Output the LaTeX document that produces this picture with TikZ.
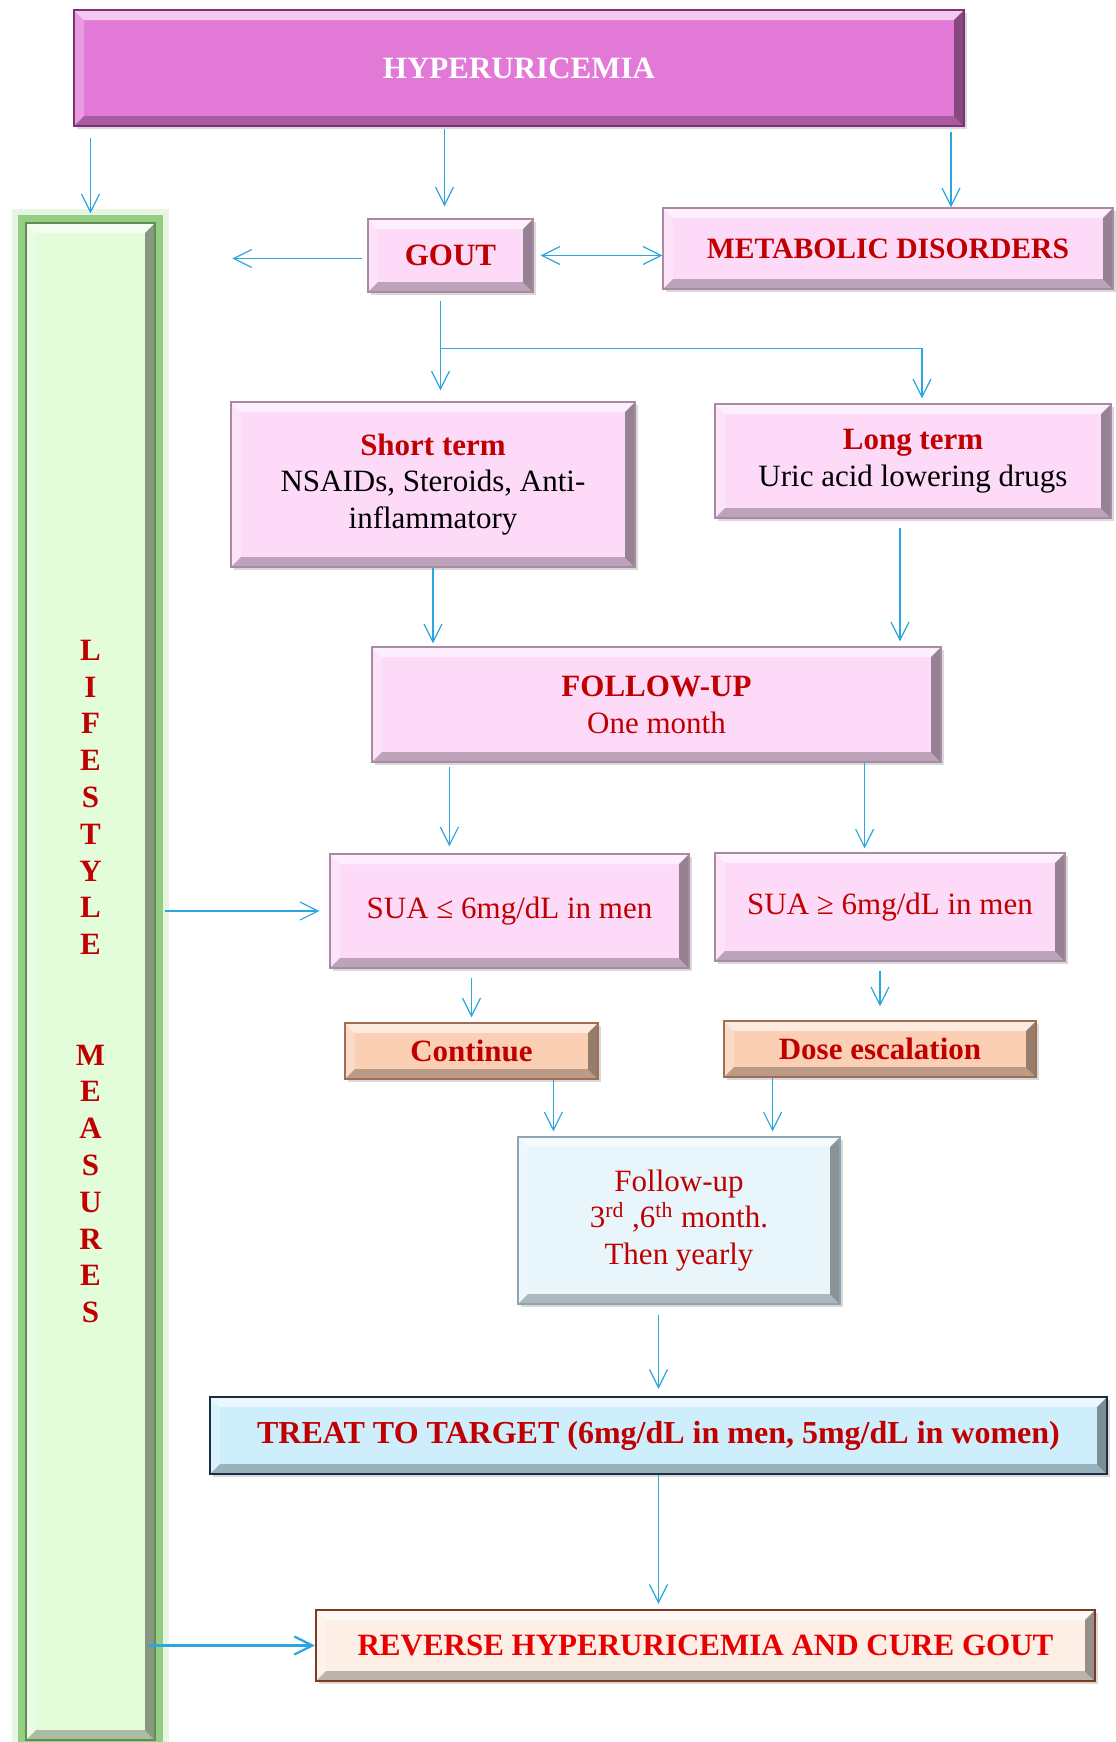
\documentclass[tikz,border=0pt]{standalone}
\usepackage{fontspec}
\setmainfont{Liberation Serif}
\usetikzlibrary{positioning,calc,arrows.meta,shadows}

\definecolor{magfill}{HTML}{E279D6}
\definecolor{magedge}{HTML}{7B3372}
\definecolor{pinkfill}{HTML}{FCDAF8}
\definecolor{pinkedge}{HTML}{A98AA5}
\definecolor{lifefill}{HTML}{E3FCDA}
\definecolor{lifeglow}{HTML}{8CCB79}
\definecolor{peachfill}{HTML}{FBCFB3}
\definecolor{peachedge}{HTML}{A06D55}
\definecolor{skyfill}{HTML}{E8F6FC}
\definecolor{skyedge}{HTML}{8FA3B0}
\definecolor{cyanfill}{HTML}{CDEEFA}
\definecolor{navyedge}{HTML}{1C2E46}
\definecolor{creamfill}{HTML}{FDEFE5}
\definecolor{brownedge}{HTML}{7A3B1E}
\definecolor{darkred}{HTML}{C00000}
\definecolor{brightred}{HTML}{E80000}
\definecolor{arrowblue}{HTML}{2BA6DE}

\newcommand{\bvl}{5pt}

\tikzset{
  bevel/.style={path picture={
    \coordinate (bnw) at (path picture bounding box.north west);
    \coordinate (bne) at (path picture bounding box.north east);
    \coordinate (bsw) at (path picture bounding box.south west);
    \coordinate (bse) at (path picture bounding box.south east);
    \fill[white,opacity=.6] (bnw) -- (bne) -- ([xshift=-\bvl,yshift=-\bvl]bne) -- ([xshift=\bvl,yshift=-\bvl]bnw) -- cycle;
    \fill[white,opacity=.25] (bnw) -- ([xshift=\bvl,yshift=-\bvl]bnw) -- ([xshift=\bvl,yshift=\bvl]bsw) -- (bsw) -- cycle;
    \fill[black,opacity=.25] (bsw) -- (bse) -- ([xshift=-\bvl,yshift=\bvl]bse) -- ([xshift=\bvl,yshift=\bvl]bsw) -- cycle;
    \fill[black,opacity=.4] (bne) -- (bse) -- ([xshift=-\bvl,yshift=\bvl]bse) -- ([xshift=-\bvl,yshift=-\bvl]bne) -- cycle;
  }},
  box/.style={rectangle, align=center, inner sep=2pt, bevel,
    font=\fontsize{15.5}{18.4}\selectfont,
    drop shadow={shadow xshift=1.5pt,shadow yshift=-1.5pt,opacity=.3}},
  magbox/.style={box, fill=magfill, draw=magedge, line width=1pt, text=white, font=\fontsize{15.5}{18.4}\selectfont\bfseries},
  pinkbox/.style={box, fill=pinkfill, draw=pinkedge, line width=.6pt},
  peachbox/.style={box, fill=peachfill, draw=peachedge, line width=.6pt, text=darkred, font=\fontsize{15.5}{18.4}\selectfont\bfseries},
  skybox/.style={box, fill=skyfill, draw=skyedge, line width=.6pt, text=darkred},
  lifebox/.style={rectangle, align=center, bevel, fill=lifefill, draw=lifeglow!70!black, line width=.6pt,
    preaction={draw=lifeglow!40, line width=14pt, opacity=.5},
    preaction={draw=lifeglow, line width=8pt, opacity=.9},
    text=darkred, font=\fontsize{15.5}{18.4}\selectfont\bfseries},
  flow/.style={draw=arrowblue, line width=.6pt, ->},
}

\begin{document}
\begin{tikzpicture}[x=0.5pt, y=-0.5pt, >={Straight Barb[length=9pt,width=9pt]}]
  \useasboundingbox (0,0) rectangle (1115,1742);

  % boxes
  \node[magbox, minimum width=445pt, minimum height=58pt] (hyper) at (519,68) {HYPERURICEMIA};
  \node[lifebox, minimum width=64.5pt, minimum height=758.5pt] (life) at (90.5,981.5)
    {L\\I\\F\\E\\S\\T\\Y\\L\\E\\[36.8pt]M\\E\\A\\S\\U\\R\\E\\S};
  \node[pinkbox, minimum width=82.5pt, minimum height=36.5pt] (gout) at (450.5,255.5) {\textbf{\color{darkred}GOUT}};
  \node[pinkbox, minimum width=225pt, minimum height=40.5pt, font=\fontsize{14.8}{18.4}\selectfont] (metab) at (888,248.5) {\textbf{\color{darkred}METABOLIC DISORDERS}};
  \node[pinkbox, minimum width=202pt, minimum height=82.5pt] (short) at (433,484.5)
    {\textbf{\color{darkred}Short term}\\NSAIDs, Steroids, Anti-\\inflammatory};
  \node[pinkbox, minimum width=198pt, minimum height=57pt] (long) at (913,461)
    {\textbf{\color{darkred}Long term}\\Uric acid lowering drugs};
  \node[pinkbox, minimum width=284.5pt, minimum height=57.5pt, text=darkred] (follow) at (656.5,704.5)
    {\textbf{FOLLOW-UP}\\One month};
  \node[pinkbox, minimum width=179.5pt, minimum height=57pt, text=darkred] (suale) at (509.5,911) {SUA ≤ 6mg/dL in men};
  \node[pinkbox, minimum width=175pt, minimum height=54pt, text=darkred] (suage) at (890,907) {SUA ≥ 6mg/dL in men};
  \node[peachbox, minimum width=126.5pt, minimum height=28pt] (cont) at (471.5,1051) {Continue};
  \node[peachbox, minimum width=156pt, minimum height=28pt] (dose) at (880,1049) {Dose escalation};
  \node[skybox, minimum width=161pt, minimum height=83.5pt] (fup) at (679,1220.5)
    {Follow-up\\3\textsuperscript{rd} ,6\textsuperscript{th} month.\\Then yearly};
  \node[box, fill=cyanfill, draw=navyedge, line width=1.2pt, minimum width=448.5pt, minimum height=38.5pt, font=\fontsize{16}{18.4}\selectfont] (treat) at (658.5,1435.5)
    {\textbf{\color{darkred}TREAT TO TARGET (6mg/dL in men, 5mg/dL in women)}};
  \node[box, fill=creamfill, draw=brownedge, line width=1.2pt, minimum width=389.5pt, minimum height=35.5pt] (rev) at (705.5,1645.5)
    {\textbf{\color{brightred}REVERSE HYPERURICEMIA AND CURE GOUT}};

  % helper points
  \coordinate (hg) at ([xshift=-3pt,yshift=6pt]gout.north);
  \coordinate (hm) at ([xshift=-7pt,yshift=-2.5pt]hyper.south east);
  \coordinate (goutleft) at ([xshift=-67.5pt,yshift=-1.5pt]gout.west);
  \coordinate (gs) at ([xshift=-5pt,yshift=-4pt]gout.south);
  \coordinate (branch) at ([xshift=-5pt,yshift=-28pt]gout.south);
  \coordinate (lf) at ([xshift=-6.5pt,yshift=-4.5pt]long.south);
  \coordinate (fs1) at ([xshift=39pt,yshift=-2pt]follow.south west);
  \coordinate (fs2) at ([xshift=-38.5pt]follow.south east);
  \coordinate (ls) at ([xshift=4.5pt]life.east);
  \coordinate (cf) at ([xshift=18pt]fup.north west);
  \coordinate (df) at ([xshift=-34pt]fup.north east);
  \coordinate (lr) at ([xshift=-3.5pt]life.east);

  % connectors
  \draw[flow] ([yshift=-5.5pt]hyper.south -| life.north) -- ([yshift=4.5pt]life.north);
  \draw[flow, shorten <=1pt] (hyper.south -| hg) -- (hg);
  \draw[flow] (hm) -- (hm |- metab.north);
  \draw[flow] ([xshift=-2.5pt,yshift=-1.5pt]gout.west) -- (goutleft);
  \draw[flow, <->] ([xshift=3.5pt]gout.east) -- (gout.east -| metab.west);
  \draw[flow, shorten >=5.5pt] (gs) -- (gs |- short.north);
  \draw[flow] (branch) -| ([xshift=4.5pt,yshift=2.5pt]long.north);
  \draw[flow, shorten >=1.5pt] (short.south) -- (short.south |- follow.north);
  \draw[flow, shorten >=2.5pt] (lf) -- (lf |- follow.north);
  \draw[flow, shorten >=3.5pt] (fs1) -- (fs1 |- suale.north);
  \draw[flow, shorten >=2pt] (fs2) -- (fs2 |- suage.north);
  \draw[flow] (ls |- suale.west) -- ([xshift=-5pt]suale.west);
  \draw[flow, shorten <=4.5pt, shorten >=2.5pt] (suale.south -| cont.north) -- (cont.north);
  \draw[flow, shorten <=4.5pt, shorten >=7pt] (suage.south -| dose.north) -- (dose.north);
  \draw[flow, shorten >=2.5pt] (cont.south -| cf) -- (cf);
  \draw[flow, shorten >=2.5pt] (dose.south -| df) -- (df);
  \draw[flow, shorten <=5pt, shorten >=3.5pt] (fup.south -| treat.north) -- (treat.north);
  \draw[flow, shorten >=2.5pt] (treat.south) -- (treat.south |- rev.north);
  \draw[flow, line width=1.1pt] (lr |- rev.west) -- (rev.west);
\end{tikzpicture}
\end{document}
